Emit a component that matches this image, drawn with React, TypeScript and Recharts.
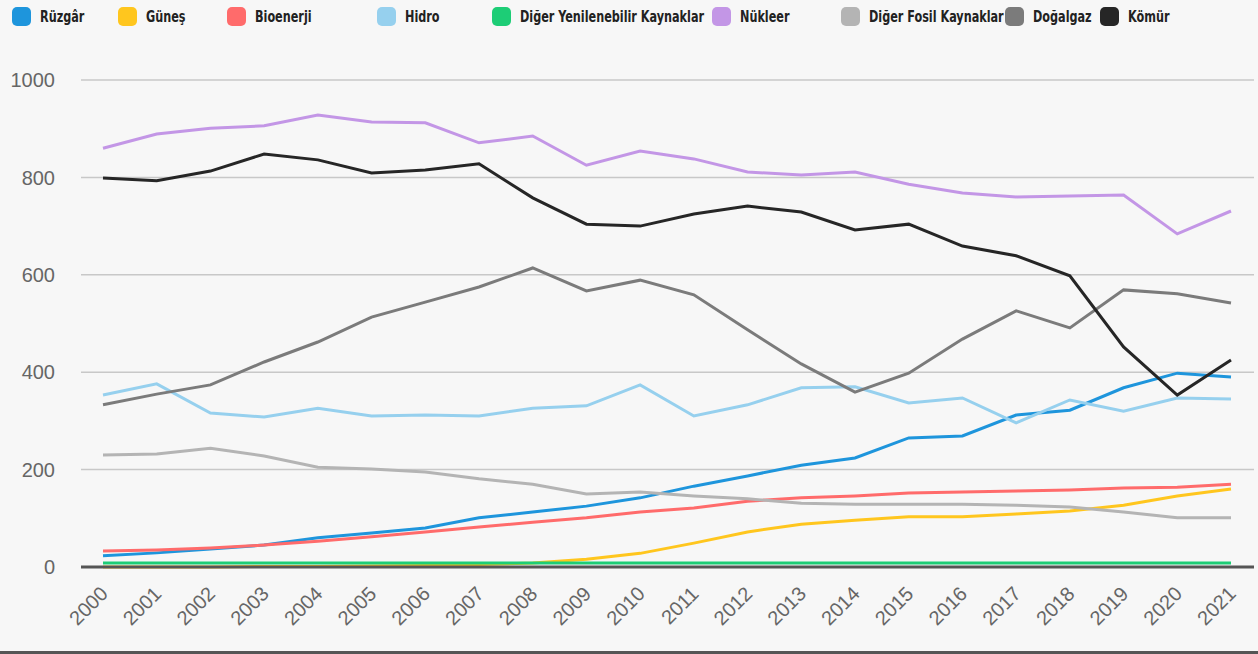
import React from 'react';
import { LineChart, Line, XAxis, YAxis, CartesianGrid, Legend } from 'recharts';

const years = ['2000','2001','2002','2003','2004','2005','2006','2007','2008','2009','2010','2011','2012','2013','2014','2015','2016','2017','2018','2019','2020','2021'];

const ruzgar = [23,29,37,45,60,70,80,101,113,125,142,166,187,209,224,265,269,312,322,368,398,390];
const gunes = [0,0,0,1,1,2,3,5,8,16,28,49,72,88,96,103,103,109,115,127,146,160];
const bioenerji = [33,35,39,45,53,62,72,82,92,101,113,121,135,142,146,152,154,156,158,162,164,170];
const hidro = [353,376,316,308,326,310,312,310,326,331,374,310,333,368,370,337,347,296,343,320,347,345];
const digerYen = [8,8,8,8,8,8,8,8,8,8,8,8,8,8,8,8,8,8,8,8,8,8];
const nukleer = [860,889,901,906,928,914,912,871,885,825,854,838,811,805,811,786,768,760,762,764,684,731];
const digerFosil = [230,232,244,228,205,201,195,181,170,150,154,146,140,131,129,129,129,127,123,113,101,101];
const dogalgaz = [333,355,374,421,462,513,544,575,614,567,589,559,487,417,359,398,468,526,491,569,561,542];
const komur = [799,793,813,848,836,809,815,828,758,704,700,725,741,729,692,704,659,639,598,452,353,425];

const yTicks = [0, 200, 400, 600, 800, 1000];

const seriesNames = ['Rüzgâr','Güneş','Bioenerji','Hidro','Diğer Yenilenebilir Kaynaklar','Nükleer','Diğer Fosil Kaynaklar','Doğalgaz','Kömür'];
const seriesKeys = ['ruzgar','gunes','bioenerji','hidro','digerYen','nukleer','digerFosil','dogalgaz','komur'];
const seriesValues = [ruzgar, gunes, bioenerji, hidro, digerYen, nukleer, digerFosil, dogalgaz, komur];
const seriesColors = ['#1e95dc','#ffc61e','#ff6b6b','#96d0ee','#1dcd76','#c396e6','#b4b4b4','#7b7b7b','#262626'];

// legend layout (styling only)
const legendX = [12, 118, 227, 377, 492, 712, 841, 1005, 1100];

const data = years.map((y, i) => {
  const row: Record<string, number | string> = { year: y };
  seriesKeys.forEach((k, j) => { row[k] = seriesValues[j][i]; });
  return row;
});

const legendFont = "'Liberation Sans Narrow', 'DejaVu Sans Condensed', 'Roboto', sans-serif";

const LegendContent = () => (
  <div style={{ position: 'relative', width: 1258, height: 34 }}>
    {seriesNames.map((n, i) => (
      <div key={n} style={{ position: 'absolute', left: legendX[i], top: 7, display: 'flex', alignItems: 'center', height: 19 }}>
        <div style={{ width: 19, height: 19, borderRadius: 5, background: seriesColors[i], flex: 'none' }} />
        <span style={{ marginLeft: 9, fontFamily: legendFont, fontWeight: 'bold', fontSize: 16, color: '#222', whiteSpace: 'nowrap', display: 'inline-block', transform: 'scaleX(0.78)', transformOrigin: 'left center' }}>{n}</span>
      </div>
    ))}
  </div>
);

const XTick = (props: any) => {
  const { x, y, payload } = props;
  return (
    <text x={x + 6} y={y + 20} transform={`rotate(-45 ${x + 6} ${y + 20})`} textAnchor="end" fill="#666" fontSize={20} fontFamily="'Liberation Sans', Arial, sans-serif">
      {payload.value}
    </text>
  );
};

export default function App() {
  return (
    <div style={{ position: 'absolute', left: 0, top: 0, width: 1258, height: 654, background: '#f7f7f7', overflow: 'hidden' }}>
      <LineChart width={1258} height={652} data={data} margin={{ top: 46, right: 4, bottom: 0, left: 0 }}>
        <Legend verticalAlign="top" align="left" content={<LegendContent />} wrapperStyle={{ top: 0, left: 0, width: 1258, height: 34 }} />
        <CartesianGrid vertical={false} stroke="#c8c8c8" strokeWidth={1.5} />
        <XAxis dataKey="year" interval={0} padding={{ left: 22, right: 23 }} tickLine={false} axisLine={{ stroke: '#555', strokeWidth: 3 }} tick={<XTick />} height={85} />
        <YAxis domain={[0, 1000]} ticks={yTicks} axisLine={false} tickLine={false} tickSize={0} tickMargin={26} width={81} tick={{ fill: '#666', fontSize: 20, fontFamily: "'Liberation Sans', Arial, sans-serif" }} />
        {seriesKeys.map((k, i) => (
          <Line key={k} type="linear" dataKey={k} name={seriesNames[i]} stroke={seriesColors[i]} strokeWidth={3} dot={false} isAnimationActive={false} />
        ))}
      </LineChart>
      <div style={{ position: 'absolute', left: 0, top: 651, width: 1258, height: 3, background: '#555' }} />
    </div>
  );
}
